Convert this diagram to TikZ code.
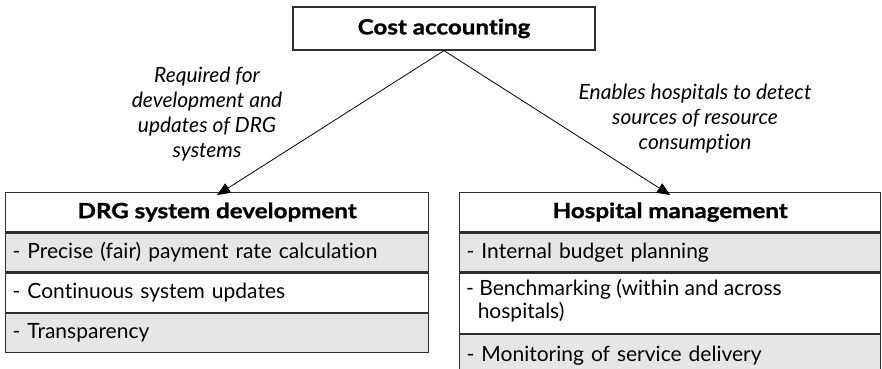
\documentclass[tikz,border=0pt]{standalone}
\usepackage{fontspec}
\setmainfont{Lato}[Ligatures=NoCommon]
\newfontfamily\headfont[FakeStretch=1.15,FakeBold=1.2,Ligatures=NoCommon]{Lato}
\usetikzlibrary{arrows.meta}
\definecolor{rowgray}{HTML}{E6E6E6}
\definecolor{edge}{HTML}{2E2E2E}
\begin{document}
\begin{tikzpicture}[x=1pt,y=-1pt,
  box/.style={draw=edge,line width=1.3pt,rectangle,inner sep=0pt},
  head/.style={box,font=\headfont\fontsize{21}{24}\selectfont\bfseries,align=center},
  itemfont/.style={font=\fontsize{21}{23}\selectfont},
  item/.style={box,itemfont,anchor=north west,inner xsep=7pt,align=left},
  grayrow/.style={fill=rowgray},
  note/.style={font=\fontsize{21}{25}\selectfont\itshape,align=center},
  arr/.style={draw=black,line width=0.8pt,-{Triangle[length=13pt,width=11pt]}}]
\useasboundingbox (0,0) rectangle (882,368);

% top node
\node[head,minimum width=302pt,minimum height=43pt] (cost) at (444,28.5) {Cost accounting};

% left column: DRG system development
\node[head,minimum width=423pt,minimum height=39pt,anchor=north west] (drg) at (5,192) {DRG system development};
\node[item,grayrow,minimum width=423pt,minimum height=39pt,text width=409pt] (drg1) at (drg.south west) {- Precise (fair) payment rate calculation};
\node[item,minimum width=423pt,minimum height=39pt,text width=409pt] (drg2) at (drg1.south west) {- Continuous system updates};
\node[item,grayrow,minimum width=423pt,minimum height=39pt,text width=409pt] (drg3) at (drg2.south west) {- Transparency};

% right column: hospital management
\node[head,minimum width=421pt,minimum height=39pt,anchor=north west] (hm) at (459,192) {Hospital management};
\node[item,grayrow,minimum width=421pt,minimum height=39pt,text width=407pt] (hm1) at (hm.south west) {- Internal budget planning};
\node[box,anchor=north west,minimum width=421pt,minimum height=60pt] (hm2) at (hm1.south west) {};
\node[itemfont,anchor=west,align=left,inner xsep=7pt,inner ysep=0pt,yshift=2.5pt] (hm2text) at (hm2.west)
  {- Benchmarking (within and across\\\hspace*{0.55em}hospitals)};
\node[item,grayrow,minimum width=421pt,minimum height=42pt,text width=407pt] (hm3) at (hm2.south west) {- Monitoring of service delivery};

% connectors
\draw[arr] (cost.south) -- ([yshift=-3pt]drg.north);
\draw[arr] (cost.south) -- ([yshift=-3pt]hm.north);

% connector labels
\node[note] (lblL) at (207,114) {Required for\\development and\\updates of DRG\\systems};
\node[note] (lblR) at (695,119) {Enables hospitals to detect\\sources of resource\\consumption};
\end{tikzpicture}
\end{document}
